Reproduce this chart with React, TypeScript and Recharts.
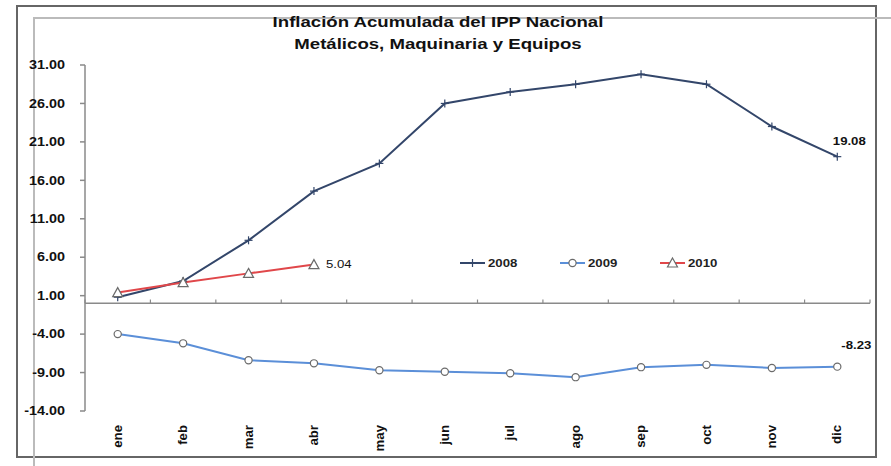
import { LineChart, Line, XAxis, YAxis, ReferenceLine, LabelList } from "recharts";

const months = ["ene", "feb", "mar", "abr", "may", "jun", "jul", "ago", "sep", "oct", "nov", "dic"];
const serie2008 = [0.8, 2.9, 8.2, 14.6, 18.2, 26.0, 27.5, 28.5, 29.8, 28.5, 23.0, 19.08];
const serie2009 = [-4.0, -5.2, -7.4, -7.8, -8.7, -8.9, -9.1, -9.6, -8.3, -8.0, -8.4, -8.23];
const serie2010 = [1.4, 2.7, 3.9, 5.04];
const yTicks = [-14, -9, -4, 1, 6, 11, 16, 21, 26, 31];
const seriesNames = ["2008", "2009", "2010"];
const seriesColors = ["#33466a", "#5b8fd8", "#e0474a"];

const data = months.map((m, i) => ({
  pos: i + 0.5,
  month: m,
  y2008: serie2008[i],
  y2009: serie2009[i],
  y2010: i < serie2010.length ? serie2010[i] : null,
}));
const monthPos = data.map((d) => d.pos);
const bounds = months.map((_, i) => i).concat(months.length);

const FONT = "'Liberation Sans', Arial, sans-serif";

function PlusDot(props: any) {
  const { cx, cy } = props;
  if (cx == null || cy == null) return null;
  return (
    <g>
      <line x1={cx - 4} y1={cy} x2={cx + 4} y2={cy} stroke="#33466a" strokeWidth={1.2} />
      <line x1={cx} y1={cy - 4} x2={cx} y2={cy + 4} stroke="#33466a" strokeWidth={1.2} />
    </g>
  );
}

function CircleDot(props: any) {
  const { cx, cy } = props;
  if (cx == null || cy == null) return null;
  return <circle cx={cx} cy={cy} r={3.6} fill="#fff" stroke="#6b6b6b" strokeWidth={1.2} />;
}

function TriDot(props: any) {
  const { cx, cy } = props;
  if (cx == null || cy == null) return null;
  return (
    <polygon
      points={`${cx},${cy - 5} ${cx + 5},${cy + 4} ${cx - 5},${cy + 4}`}
      fill="#fff"
      stroke="#6b6b6b"
      strokeWidth={1.2}
    />
  );
}

function YTick(props: any) {
  const { x, y, payload } = props;
  return (
    <text
      transform={`translate(${x},${y}) scale(1.2,1)`}
      textAnchor="end"
      dy="0.35em"
      fontFamily={FONT}
      fontSize={12}
      fontWeight="bold"
      fill="#111"
    >
      {Number(payload.value).toFixed(2)}
    </text>
  );
}

function XTick(props: any) {
  const { x, y, payload } = props;
  const idx = Math.round(payload.value - 0.5);
  return (
    <text
      transform={`translate(${x},${y + 6}) rotate(-90) scale(1.1,1)`}
      textAnchor="end"
      dy="0.35em"
      fontFamily={FONT}
      fontSize={12}
      fontWeight="bold"
      fill="#111"
    >
      {months[idx]}
    </text>
  );
}

function makeLabel(index: number, dx: number, dy: number, anchor: string, bold: boolean) {
  return (props: any) => {
    const { x, y, value } = props;
    if (props.index !== index || value == null) return null;
    return (
      <text
        transform={`translate(${x + dx},${y + dy}) scale(1.2,1)`}
        textAnchor={anchor}
        dy="0.35em"
        fontFamily={FONT}
        fontSize={11}
        fontWeight={bold ? "bold" : "normal"}
        fill="#111"
      >
        {Number(value).toFixed(2)}
      </text>
    );
  };
}

function LegendBox() {
  const markers = [PlusDot, CircleDot, TriDot];
  return (
    <svg width={300} height={20}>
      {seriesNames.map((name, i) => {
        const M = markers[i];
        const x0 = i * 100;
        return (
          <g key={name}>
            <line x1={x0} y1={10} x2={x0 + 25} y2={10} stroke={seriesColors[i]} strokeWidth={2} />
            <M cx={x0 + 12.5} cy={10} />
            <text
              transform={`translate(${x0 + 28},10) scale(1.2,1)`}
              dy="0.35em"
              fontFamily={FONT}
              fontSize={11}
              fontWeight="bold"
              fill="#222"
            >
              {name}
            </text>
          </g>
        );
      })}
    </svg>
  );
}

export default function App() {
  return (
    <div style={{ position: "fixed", left: 0, top: 0, width: 891, height: 466, background: "#fff", overflow: "hidden" }}>
      <div
        style={{
          position: "absolute",
          left: 16,
          top: 5,
          width: 857,
          height: 449,
          border: "2px solid #666",
        }}
      />
      <div
        style={{
          position: "absolute",
          left: 33,
          top: 17,
          width: 870,
          height: 470,
          borderLeft: "2px solid #bbb",
          borderTop: "2px solid #bbb",
        }}
      />
      <div
        style={{
          position: "absolute",
          left: 238,
          top: 11,
          width: 400,
          textAlign: "center",
          fontFamily: FONT,
          fontWeight: "bold",
          fontSize: 15.5,
          lineHeight: "22px",
          color: "#111",
          transform: "scaleX(1.2)",
        }}
      >
        Inflación Acumulada del IPP Nacional
        <br />
        Metálicos, Maquinaria y Equipos
      </div>
      <div style={{ position: "absolute", left: 0, top: 0 }}>
        <LineChart width={891} height={466} data={data} margin={{ top: 65, right: 21, bottom: 10, left: 0 }}>
          <XAxis
            type="number"
            dataKey="pos"
            domain={[0, 12]}
            ticks={monthPos}
            interval={0}
            axisLine={false}
            tickLine={false}
            height={45}
            tick={<XTick />}
          />
          <YAxis
            type="number"
            domain={[-14, 31]}
            ticks={yTicks}
            interval={0}
            width={85}
            tickSize={5}
            tickMargin={15}
            axisLine={{ stroke: "#8a8a8a", strokeWidth: 1.5 }}
            tickLine={{ stroke: "#8a8a8a", strokeWidth: 1.5 }}
            tick={<YTick />}
          />
          <ReferenceLine y={0} stroke="#8a8a8a" strokeWidth={1.5} />
          {bounds.map((b) => (
            <ReferenceLine
              key={b}
              segment={[
                { x: b, y: 0 },
                { x: b, y: 0.5 },
              ]}
              stroke="#8a8a8a"
              strokeWidth={1.2}
            />
          ))}
          <Line
            type="linear"
            dataKey="y2009"
            name="2009"
            stroke={seriesColors[1]}
            strokeWidth={2}
            dot={<CircleDot />}
            isAnimationActive={false}
          >
            <LabelList dataKey="y2009" content={makeLabel(11, 19, -21, "middle", true)} />
          </Line>
          <Line
            type="linear"
            dataKey="y2008"
            name="2008"
            stroke={seriesColors[0]}
            strokeWidth={2}
            dot={<PlusDot />}
            isAnimationActive={false}
          >
            <LabelList dataKey="y2008" content={makeLabel(11, 12, -16, "middle", true)} />
          </Line>
          <Line
            type="linear"
            dataKey="y2010"
            name="2010"
            stroke={seriesColors[2]}
            strokeWidth={2}
            dot={<TriDot />}
            connectNulls={false}
            isAnimationActive={false}
          >
            <LabelList dataKey="y2010" content={makeLabel(3, 12, 0, "start", false)} />
          </Line>
        </LineChart>
      </div>
      <div style={{ position: "absolute", left: 460, top: 253 }}>
        <LegendBox />
      </div>
    </div>
  );
}
